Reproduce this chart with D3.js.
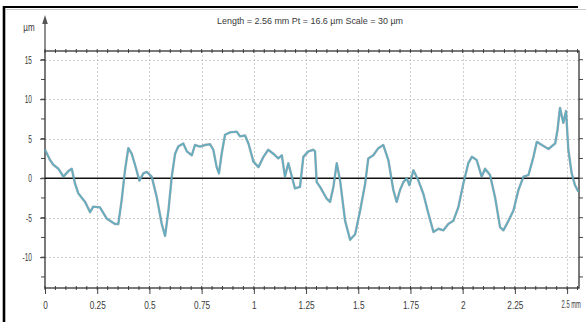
<!DOCTYPE html>
<html>
<head>
<meta charset="utf-8">
<script src="https://cdn.jsdelivr.net/npm/d3@7"></script>
<style>
  body { margin: 0; background: #fff; }
  svg { display: block; }
  text { font-family: "Liberation Sans", Arial, sans-serif; fill: #3a3a3a; }
</style>
</head>
<body>
<svg id="chart" width="586" height="322"></svg>
<script>
// Surface profile: position along the trace (mm) and height (µm)
const distanceMm = [
  0.000, 0.024, 0.040, 0.064, 0.088, 0.112, 0.128, 0.144, 0.159, 0.192,
  0.216, 0.231, 0.263, 0.295, 0.335, 0.351, 0.367, 0.383, 0.399, 0.415,
  0.431, 0.452, 0.471, 0.487, 0.511, 0.535, 0.559, 0.575, 0.591, 0.607,
  0.623, 0.638, 0.662, 0.679, 0.703, 0.718, 0.742, 0.766, 0.790, 0.806,
  0.822, 0.833, 0.846, 0.862, 0.886, 0.918, 0.934, 0.958, 0.974, 0.998,
  1.022, 1.046, 1.069, 1.093, 1.117, 1.134, 1.149, 1.165, 1.182, 1.197,
  1.221, 1.237, 1.261, 1.285, 1.293, 1.301, 1.317, 1.349, 1.365, 1.381,
  1.397, 1.413, 1.437, 1.461, 1.485, 1.509, 1.533, 1.548, 1.572, 1.596,
  1.620, 1.644, 1.668, 1.684, 1.700, 1.716, 1.732, 1.745, 1.764, 1.788,
  1.812, 1.836, 1.860, 1.884, 1.908, 1.931, 1.955, 1.979, 2.003, 2.027,
  2.044, 2.067, 2.091, 2.107, 2.131, 2.155, 2.179, 2.195, 2.219, 2.243,
  2.267, 2.291, 2.315, 2.339, 2.355, 2.379, 2.411, 2.443, 2.454, 2.466,
  2.482, 2.495, 2.506, 2.522, 2.538, 2.554
];
const heightUm = [
  3.6, 2.3, 1.7, 1.2, 0.2, 0.9, 1.2, -0.7, -1.9, -3.0,
  -4.3, -3.6, -3.7, -5.1, -5.8, -5.8, -2.8, 1.0, 3.8, 3.1,
  1.7, -0.3, 0.6, 0.8, 0.2, -2.4, -5.8, -7.3, -4.1, 0.2,
  3.1, 4.0, 4.4, 3.4, 2.9, 4.2, 4.0, 4.2, 4.3, 3.6,
  1.4, 0.6, 3.1, 5.5, 5.8, 5.9, 5.3, 5.4, 4.4, 2.1,
  1.4, 2.7, 3.6, 3.1, 2.5, 2.9, 0.2, 1.9, 0.2, -1.3,
  -1.1, 2.7, 3.4, 3.6, 3.4, -0.5, -1.1, -2.6, -3.0, -1.1,
  1.9, -0.3, -5.4, -7.8, -7.1, -4.1, -0.7, 2.5, 2.9, 3.8,
  4.2, 2.3, -1.5, -3.0, -1.5, -0.5, 0.0, -0.9, 1.0, -0.3,
  -2.0, -4.5, -6.8, -6.4, -6.6, -5.8, -5.4, -3.7, -0.7, 1.9,
  2.7, 2.3, 0.2, 1.2, 0.4, -2.4, -6.2, -6.6, -5.4, -4.1,
  -1.5, 0.2, 0.4, 2.7, 4.6, 4.2, 3.7, 4.4, 6.1, 8.9,
  7.0, 8.5, 3.6, 0.6, -0.9, -1.7
];

const xTickValues = [0, 0.25, 0.5, 0.75, 1, 1.25, 1.5, 1.75, 2, 2.25, 2.5];
const xTickLabels = ["0", "0.25", "0.5", "0.75", "1", "1.25", "1.5", "1.75", "2", "2.25", "2.5 mm"];
const yTickValues = [15, 10, 5, 0, -5, -10];
const yTickLabels = ["15", "10", "5", "0", "-5", "-10"];
const headerText = "Length = 2.56 mm  Pt = 16.6 µm  Scale = 30 µm";
const unitLabel = "µm";

const svg = d3.select("#chart");
const plotLeft = 45, plotRight = 579, plotTop = 51, plotBottom = 288;

const x = d3.scaleLinear().domain([0, 2.557]).range([plotLeft, plotRight]);
const y = d3.scaleLinear().domain([-13.9, 16.1]).range([plotBottom, plotTop]);

// squeeze text horizontally to the narrow lettering of the instrument printout
function squeeze(sel, factor) {
  sel.each(function () {
    const w = this.getComputedTextLength();
    this.setAttribute("textLength", (w * factor).toFixed(1));
    this.setAttribute("lengthAdjust", "spacingAndGlyphs");
  });
}

// outer page frame
svg.append("line").attr("x1", 4).attr("x2", 4).attr("y1", 6).attr("y2", 322)
  .attr("stroke", "#000").attr("stroke-width", 2.6);
svg.append("line").attr("x1", 3).attr("x2", 578).attr("y1", 7).attr("y2", 7)
  .attr("stroke", "#000").attr("stroke-width", 2);
svg.append("line").attr("x1", 5).attr("x2", 586).attr("y1", 9.5).attr("y2", 9.5)
  .attr("stroke", "#c8c8c8").attr("stroke-width", 1);

// grid
const grid = svg.append("g").attr("stroke", "#cfcfcf").attr("stroke-width", 1)
  .attr("stroke-dasharray", "2,2");
grid.selectAll("line.h").data(yTickValues.filter(v => v !== 0)).join("line")
  .attr("class", "h")
  .attr("x1", plotLeft).attr("x2", plotRight)
  .attr("y1", d => Math.round(y(d)) + 0.5).attr("y2", d => Math.round(y(d)) + 0.5);
grid.selectAll("line.v").data(xTickValues.filter(v => v !== 0)).join("line")
  .attr("class", "v")
  .attr("y1", plotTop).attr("y2", plotBottom)
  .attr("x1", d => Math.round(x(d)) + 0.5).attr("x2", d => Math.round(x(d)) + 0.5);

// minor ticks along the top and bottom axes (every 0.05 mm)
const minorX = d3.range(0, 2.5501, 0.05);
const ticks = svg.append("g").attr("stroke", "#444").attr("stroke-width", 1);
[plotTop, plotBottom].forEach(yy => {
  ticks.append("g").selectAll("line").data(minorX).join("line")
    .attr("x1", d => x(d)).attr("x2", d => x(d))
    .attr("y1", yy - 2).attr("y2", yy + 2);
});
// ticks on left and right axes (every 2.5 µm)
const minorY = d3.range(-12.5, 15.01, 2.5);
ticks.append("g").selectAll("line").data(minorY).join("line")
  .attr("x1", plotLeft - 4).attr("x2", plotLeft)
  .attr("y1", d => y(d)).attr("y2", d => y(d));
ticks.append("g").selectAll("line").data(minorY).join("line")
  .attr("x1", plotRight).attr("x2", plotRight + 4)
  .attr("y1", d => y(d)).attr("y2", d => y(d));

// bottom axis with labels
const xAxis = d3.axisBottom(x).tickValues(xTickValues).tickSize(6).tickPadding(7)
  .tickFormat((d, i) => xTickLabels[i]);
const gx = svg.append("g").attr("transform", `translate(0,${plotBottom})`).call(xAxis);
gx.select(".domain").remove();
gx.selectAll(".tick line").attr("stroke", "#444");
gx.selectAll(".tick text").attr("font-size", 11.5).attr("fill", "#3a3a3a")
  .attr("font-family", "'Liberation Sans', Arial, sans-serif");
const lastIdx = xTickLabels.length - 1;
squeeze(gx.selectAll(".tick text").filter((d, i) => i !== lastIdx), 0.72);
// the unit label on the last tick is narrowed with a transform so it stays on the page
const lastScale = 0.55;
gx.selectAll(".tick text").filter((d, i) => i === lastIdx)
  .attr("font-size", 10.5).attr("text-anchor", "start")
  .attr("x", -6 / lastScale)
  .attr("transform", `scale(${lastScale},1)`);

// left axis labels
const yAxis = d3.axisLeft(y).tickValues(yTickValues).tickSize(5).tickPadding(8)
  .tickFormat((d, i) => yTickLabels[i]);
const gy = svg.append("g").attr("transform", `translate(${plotLeft},0)`).call(yAxis);
gy.select(".domain").remove();
gy.selectAll(".tick line").attr("stroke", "#444");
gy.selectAll(".tick text").attr("font-size", 11).attr("fill", "#3a3a3a")
  .attr("font-family", "'Liberation Sans', Arial, sans-serif");
squeeze(gy.selectAll(".tick text"), 0.6);

// plot frame
svg.append("rect").attr("x", plotLeft).attr("y", plotTop)
  .attr("width", plotRight - plotLeft).attr("height", plotBottom - plotTop)
  .attr("fill", "none").attr("stroke", "#333").attr("stroke-width", 1.3);

// y axis arrow
svg.append("line").attr("x1", plotLeft).attr("x2", plotLeft).attr("y1", plotTop).attr("y2", 20)
  .attr("stroke", "#444").attr("stroke-width", 1.2);
svg.append("path")
  .attr("d", `M${plotLeft},15 L${plotLeft - 2.8},24 L${plotLeft + 2.8},24 Z`)
  .attr("fill", "#555");

// unit label and header
const ul = svg.append("text").attr("x", 29).attr("y", 31).attr("text-anchor", "middle")
  .attr("font-size", 10).text(unitLabel);
squeeze(ul, 0.8);
const ht = svg.append("text").attr("x", 310).attr("y", 24).attr("text-anchor", "middle")
  .attr("font-size", 9.5).attr("fill", "#444").text(headerText);
ht.attr("textLength", 186).attr("lengthAdjust", "spacingAndGlyphs");

// zero reference line
svg.append("line").attr("x1", plotLeft).attr("x2", plotRight)
  .attr("y1", y(0)).attr("y2", y(0))
  .attr("stroke", "#111").attr("stroke-width", 1.4);

// profile trace
const pts = distanceMm.map((d, i) => [d, heightUm[i]]);
const line = d3.line().x(d => x(d[0])).y(d => y(d[1]));
svg.append("path").datum(pts).attr("d", line)
  .attr("fill", "none").attr("stroke", "#6f8a92").attr("stroke-width", 2.4)
  .attr("stroke-linejoin", "round").attr("opacity", 0.75);
svg.append("path").datum(pts).attr("d", line)
  .attr("fill", "none").attr("stroke", "#5cb0c6").attr("stroke-width", 1.2)
  .attr("stroke-linejoin", "round");
</script>
</body>
</html>
